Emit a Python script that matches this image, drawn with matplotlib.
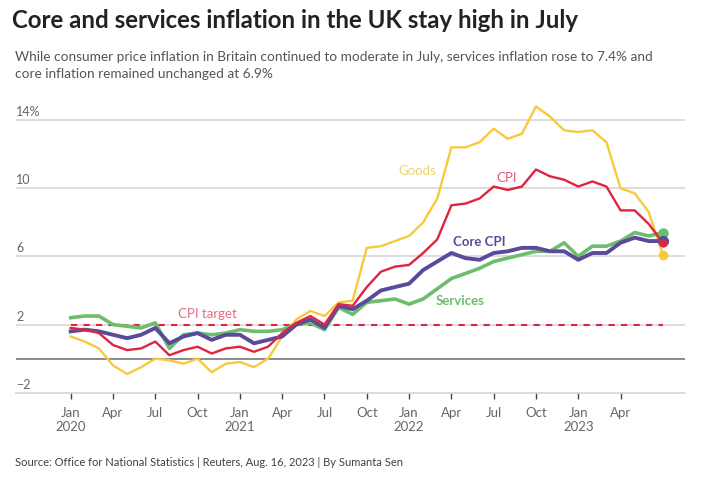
from matplotlib import pyplot as plt
from matplotlib import transforms

plt.rcParams['font.family'] = ['Lato', 'DejaVu Sans']

# monthly index 0 = Jan 2020 ... 42 = Jul 2023
cpi = [1.8, 1.7, 1.5, 0.8, 0.5, 0.6, 1.0, 0.2, 0.5, 0.7, 0.3, 0.6,
       0.7, 0.4, 0.7, 1.5, 2.1, 2.5, 2.0, 3.2, 3.1, 4.2, 5.1, 5.4,
       5.5, 6.2, 7.0, 9.0, 9.1, 9.4, 10.1, 9.9, 10.1, 11.1, 10.7, 10.5,
       10.1, 10.4, 10.1, 8.7, 8.7, 7.9, 6.8]
core = [1.6, 1.7, 1.6, 1.4, 1.2, 1.4, 1.8, 0.9, 1.3, 1.5, 1.1, 1.4,
        1.4, 0.9, 1.1, 1.3, 2.0, 2.3, 1.8, 3.1, 2.9, 3.4, 4.0, 4.2,
        4.4, 5.2, 5.7, 6.2, 5.9, 5.8, 6.2, 6.3, 6.5, 6.5, 6.3, 6.3,
        5.8, 6.2, 6.2, 6.8, 7.1, 6.9, 6.9]
services = [2.4, 2.5, 2.5, 2.0, 1.9, 1.8, 2.1, 0.6, 1.4, 1.5, 1.4, 1.5,
            1.7, 1.6, 1.6, 1.7, 2.0, 2.1, 1.7, 3.0, 2.6, 3.3, 3.4, 3.5,
            3.2, 3.5, 4.1, 4.7, 5.0, 5.3, 5.7, 5.9, 6.1, 6.3, 6.3, 6.8,
            6.0, 6.6, 6.6, 6.9, 7.4, 7.2, 7.4]
goods = [1.3, 1.0, 0.6, -0.4, -0.9, -0.5, 0.0, -0.1, -0.3, 0.0, -0.8, -0.3,
         -0.2, -0.5, 0.0, 1.3, 2.3, 2.8, 2.5, 3.3, 3.4, 6.5, 6.6, 6.9,
         7.2, 8.0, 9.4, 12.4, 12.4, 12.7, 13.5, 12.9, 13.2, 14.8, 14.2, 13.4,
         13.3, 13.4, 12.7, 10.0, 9.7, 8.6, 6.1]
cpi_target = 2

tick_pos = [0, 3, 6, 9, 12, 15, 18, 21, 24, 27, 30, 33, 36, 39]
tick_labels = ['Jan\n2020', 'Apr', 'Jul', 'Oct', 'Jan\n2021', 'Apr', 'Jul', 'Oct',
               'Jan\n2022', 'Apr', 'Jul', 'Oct', 'Jan\n2023', 'Apr']
y_grid = [2, 6, 10, 14]
y_labels = ['2', '6', '10', '14%']

YELLOW = '#f8c93a'
RED = '#e0243f'
PURPLE = '#5a4a9c'
GREEN = '#6cbd6c'

W, H = 706, 482
fig = plt.figure(figsize=(W / 100, H / 100), dpi=100)
ax = fig.add_axes([16 / W, 1 - 392.7 / H, (685 - 16) / W, (392.7 - 100) / H])
ax.set_xlim(-3.88, 43.57)
ax.set_ylim(-2, 15.18)

for s in ['top', 'right', 'left']:
    ax.spines[s].set_visible(False)
ax.spines['bottom'].set_color('#d4d4d4')
ax.spines['bottom'].set_linewidth(1.2)

for g in y_grid:
    ax.axhline(g, color='#d4d4d4', lw=1.1, zorder=0)
ax.axhline(0, color='#8a8a8a', lw=1.4, zorder=0)

trans = transforms.blended_transform_factory(ax.transAxes, ax.transData)
for g, lab in zip(y_grid + [-2], y_labels + ['\u22122']):
    ax.text(0, g + 0.12, lab, transform=trans, ha='left', va='bottom',
            fontsize=9, color='#666666')
ax.set_yticks([])

ax.set_xticks(tick_pos)
ax.set_xticklabels(tick_labels, fontsize=9.5, color='#666666', linespacing=1.25)
ax.tick_params(axis='x', length=4, width=1, color='#444444', pad=6)

x = list(range(len(cpi)))
ax.plot([0, x[-1]], [cpi_target, cpi_target], color=RED, lw=1.5,
        dashes=(3, 3), zorder=1)

ax.plot(x, goods, color=YELLOW, lw=1.7, zorder=2)
ax.plot(x, services, color=GREEN, lw=2.6, zorder=3)
ax.plot(x, core, color=PURPLE, lw=2.8, zorder=4)
ax.plot(x, cpi, color=RED, lw=1.7, zorder=5)

ax.plot(x[-1], services[-1], 'o', color=GREEN, ms=6.5, zorder=6)
ax.plot(x[-1], core[-1], 'o', color=PURPLE, ms=7, zorder=6)
ax.plot(x[-1], cpi[-1], 'o', color=RED, ms=5, zorder=7)
ax.plot(x[-1], goods[-1], 'o', color=YELLOW, ms=6, zorder=6)

ax.text(24.6, 11.0, 'Goods', color='#ecd66a', fontsize=9.5, ha='center', va='center')
ax.text(30.9, 10.6, 'CPI', color='#e05a74', fontsize=9.5, ha='center', va='center')
ax.text(29.0, 6.85, 'Core CPI', color=PURPLE, fontsize=9.5, fontweight='bold',
        ha='center', va='center')
ax.text(27.6, 3.37, 'Services', color=GREEN, fontsize=9.5, fontweight='bold',
        ha='center', va='center')
ax.text(9.7, 2.6, 'CPI target', color='#e86a84', fontsize=9.5, ha='center', va='center')

fig.text(12 / W, 1 - 21 / H, 'Core and services inflation in the UK stay high in July',
         fontsize=17.3, fontweight='bold', color='#222222', ha='left', va='center')
fig.text(15 / W, 1 - 65.5 / H,
         'While consumer price inflation in Britain continued to moderate in July, services inflation rose to 7.4% and\n'
         'core inflation remained unchanged at 6.9%',
         fontsize=9.8, color='#555555', ha='left', va='center', linespacing=1.55)
fig.text(15 / W, 1 - 462 / H,
         'Source: Office for National Statistics | Reuters, Aug. 16, 2023 | By Sumanta Sen',
         fontsize=8, color='#404040', ha='left', va='center')

fig.savefig('out.png', dpi=100)
